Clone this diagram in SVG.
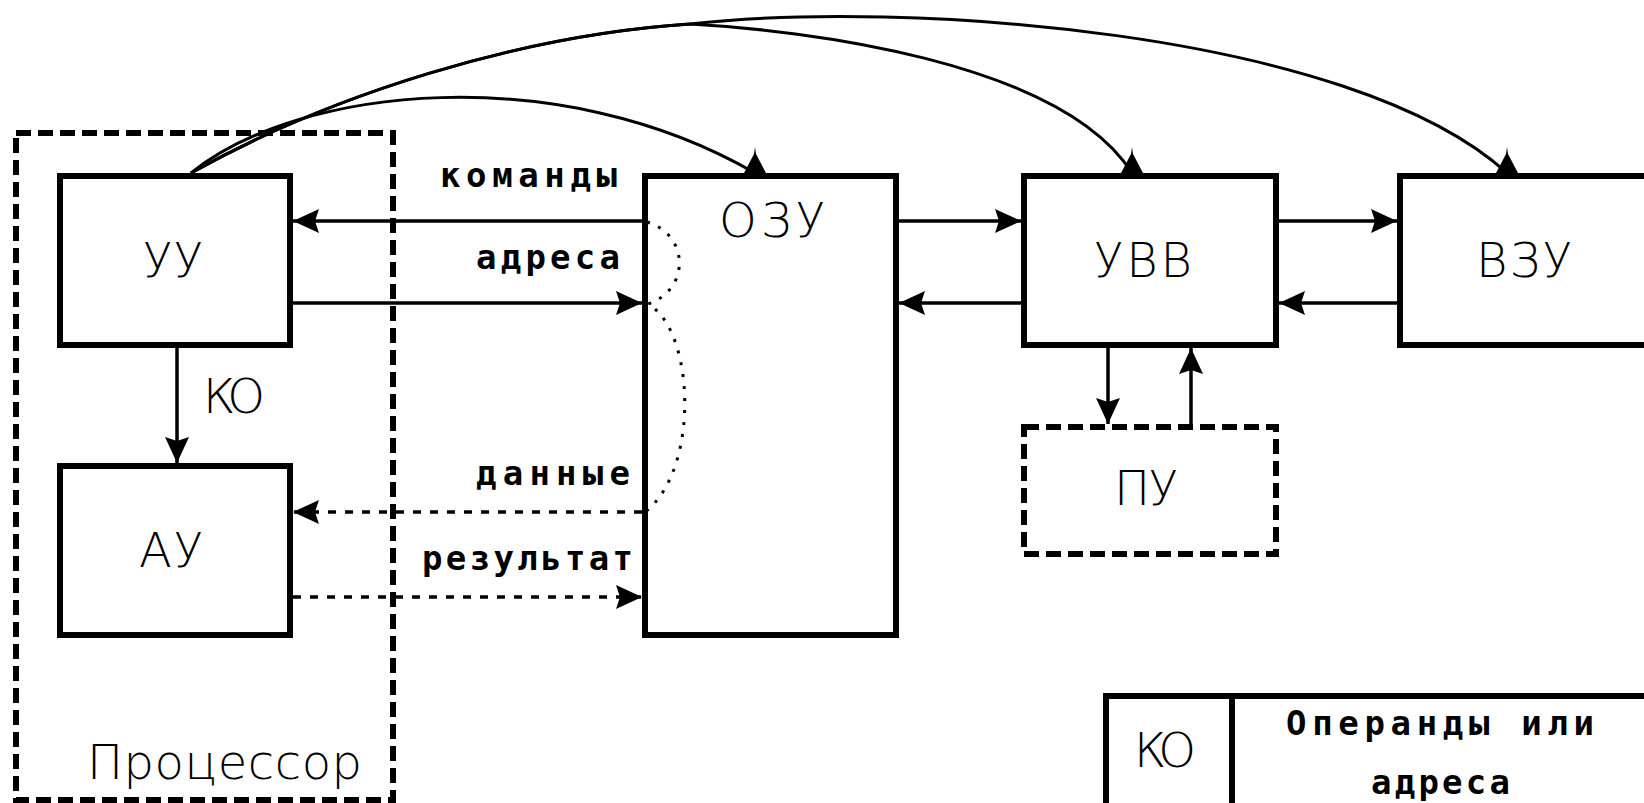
<svg xmlns="http://www.w3.org/2000/svg" width="1644" height="803" viewBox="0 0 1644 803">
<style>
.box{fill:#fff;stroke:#000;stroke-width:6}
.dbox{fill:none;stroke:#000;stroke-width:6;stroke-dasharray:15 7}
.ln{fill:none;stroke:#000;stroke-width:3.5}
.dl{fill:none;stroke:#000;stroke-width:3.5;stroke-dasharray:8 9}
.cv{fill:none;stroke:#000;stroke-width:3}
.dot{fill:none;stroke:#000;stroke-width:3;stroke-dasharray:3 9}
.big{font-family:"DejaVu Sans","Liberation Sans",sans-serif;font-weight:200;font-size:48px;fill:#000}
.sm{font-family:"DejaVu Sans Mono","Liberation Mono",monospace;font-weight:bold;font-size:34px;fill:#000}
</style>
<defs>
<marker id="ah" markerUnits="userSpaceOnUse" markerWidth="30" markerHeight="30" viewBox="0 0 30 30" refX="28" refY="15" orient="auto">
<path d="M28,15 L2,3 L6,15 L2,27 Z" fill="#000"/>
</marker>
<marker id="up" markerUnits="userSpaceOnUse" markerWidth="26" markerHeight="30" viewBox="0 0 26 30" refX="13" refY="28" orient="0">
<path d="M13,2 L14,9 L24,28 L2,28 L12,9 Z" fill="#000"/>
</marker>
</defs>

<g id="processor">
<rect class="dbox" x="16" y="133" width="377" height="667"/>
<text class="big" x="87" y="779" font-size="52" textLength="275">Процессор</text>
</g>

<g id="uu">
<rect class="box" x="60" y="176" width="230" height="169"/>
<text class="big" x="143" y="277" textLength="60">УУ</text>
</g>

<g id="au">
<rect class="box" x="60" y="466" width="230" height="169"/>
<text class="big" x="139" y="567" textLength="64">АУ</text>
</g>

<g id="ozu">
<rect class="box" x="645" y="176" width="251" height="459"/>
<text class="big" x="719" y="237" textLength="106">ОЗУ</text>
</g>

<g id="uvv">
<rect class="box" x="1024" y="176" width="252" height="169"/>
<text class="big" x="1094" y="277" textLength="98">УВВ</text>
</g>

<g id="vzu">
<rect class="box" x="1400" y="176" width="320" height="169"/>
<text class="big" x="1476" y="277" textLength="96">ВЗУ</text>
</g>

<g id="pu">
<rect class="dbox" x="1024" y="427" width="252" height="127"/>
<text class="big" x="1114" y="505" textLength="64">ПУ</text>
</g>

<g id="format">
<rect class="box" x="1106" y="696" width="600" height="200"/>
<line x1="1232" y1="696" x2="1232" y2="810" stroke="#000" stroke-width="6"/>
<text class="big" x="1134" y="767" textLength="62">КО</text>
<text class="sm" x="1286" y="735" textLength="308">Операнды или</text>
<text class="sm" x="1371" y="794" font-size="32" textLength="139">адреса</text>
</g>

<g id="connectors">
<line class="ln" x1="642" y1="221" x2="293" y2="221" marker-end="url(#ah)"/>
<line class="ln" x1="293" y1="303" x2="642" y2="303" marker-end="url(#ah)"/>
<line class="ln" x1="177" y1="348" x2="177" y2="463" marker-end="url(#ah)"/>
<line class="dl" x1="642" y1="512" x2="293" y2="512" marker-end="url(#ah)"/>
<line class="dl" x1="293" y1="597" x2="642" y2="597" marker-end="url(#ah)"/>
<line class="ln" x1="899" y1="221" x2="1021" y2="221" marker-end="url(#ah)"/>
<line class="ln" x1="1021" y1="303" x2="899" y2="303" marker-end="url(#ah)"/>
<line class="ln" x1="1279" y1="221" x2="1397" y2="221" marker-end="url(#ah)"/>
<line class="ln" x1="1397" y1="303" x2="1279" y2="303" marker-end="url(#ah)"/>
<line class="ln" x1="1108" y1="348" x2="1108" y2="424" marker-end="url(#ah)"/>
<line class="ln" x1="1191" y1="424" x2="1191" y2="348" marker-end="url(#ah)"/>
<path class="cv" d="M191,173 C300,85 560,60 755,173" marker-end="url(#up)"/>
<path class="cv" d="M191,173 C330,95 520,35 690,24 C800,30 1060,60 1132,173" marker-end="url(#up)"/>
<path class="cv" d="M191,173 C330,95 520,35 690,24 C900,0 1350,30 1507,173" marker-end="url(#up)"/>
<path class="dot" d="M647,222 C690,235 690,290 648,304 C695,330 700,470 645,512"/>
<text class="big" x="203" y="413" textLength="62">КО</text>
<text class="sm" x="440" y="187" textLength="177">команды</text>
<text class="sm" x="476" y="269" textLength="144">адреса</text>
<text class="sm" x="476" y="485" textLength="154">данные</text>
<text class="sm" x="422" y="570" textLength="211">результат</text>
</g>
</svg>
